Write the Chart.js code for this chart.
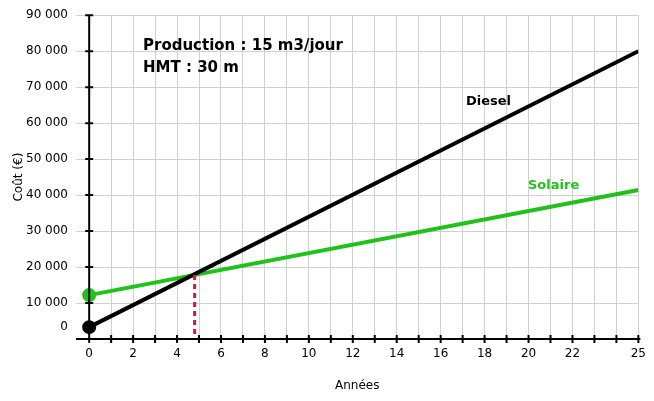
<!DOCTYPE html>
<html><head><meta charset="utf-8">
<script src="https://cdn.jsdelivr.net/npm/chart.js"></script>
<style>html,body{margin:0;padding:0;background:#fff}#w{width:654px;height:401px}</style>
</head><body><div id="w"><canvas id="c"></canvas></div>
<script>
const years = [0, 25];
const diesel = [3300, 80000];
const solaire = [12200, 41400];
const breakEven = {x: 4.8, y: 17800};
const yTicks = [3300, 10000, 20000, 30000, 40000, 50000, 60000, 70000, 80000, 90000];
const yLabels = ['0', '10 000', '20 000', '30 000', '40 000', '50 000', '60 000', '70 000', '80 000', '90 000'];
const xLabelTicks = [0, 2, 4, 6, 8, 10, 12, 14, 16, 18, 20, 22, 25];
const GREEN = '#1fc11a';
const FONT = "'DejaVu Sans', sans-serif";

const axesPlugin = {
  id: 'axes',
  afterDatasetsDraw(chart) {
    const {ctx, scales: {x, y}, chartArea} = chart;
    ctx.save();
    ctx.strokeStyle = '#d6154c'; ctx.lineWidth = 3; ctx.setLineDash([5, 4]);
    ctx.beginPath();
    ctx.moveTo(x.getPixelForValue(breakEven.x), y.getPixelForValue(breakEven.y));
    ctx.lineTo(x.getPixelForValue(breakEven.x), chartArea.bottom);
    ctx.stroke(); ctx.setLineDash([]);
    const x0 = x.getPixelForValue(0), yb = chartArea.bottom;
    ctx.strokeStyle = '#000'; ctx.lineWidth = 2;
    ctx.beginPath();
    ctx.moveTo(chartArea.left, yb); ctx.lineTo(chartArea.right + 2, yb);
    ctx.moveTo(x0, chartArea.top); ctx.lineTo(x0, yb);
    for (let i = 0; i <= 25; i++) { const px = x.getPixelForValue(i); ctx.moveTo(px, yb - 4); ctx.lineTo(px, yb + 4); }
    for (const v of yTicks) { const py = y.getPixelForValue(v); ctx.moveTo(x0 - 4, py); ctx.lineTo(x0 + 4, py); }
    ctx.stroke();
    ctx.fillStyle = '#000'; ctx.font = 'bold 15px ' + FONT; ctx.textBaseline = 'middle';
    ctx.fillText('Production : 15 m3/jour', 143, 46);
    ctx.fillText('HMT : 30 m', 143, 68);
    ctx.font = 'bold 13px ' + FONT;
    ctx.fillText('Diesel', 466, 102);
    ctx.fillStyle = GREEN;
    ctx.fillText('Solaire', 528, 186);
    ctx.restore();
  }
};

new Chart(document.getElementById('c'), {
  type: 'line',
  data: {
    datasets: [
      {label: 'Diesel', data: years.map((v, i) => ({x: v, y: diesel[i]})), borderColor: '#000', backgroundColor: '#000', borderWidth: 4, pointRadius: [5, 0], pointHoverRadius: 0},
      {label: 'Solaire', data: years.map((v, i) => ({x: v, y: solaire[i]})), borderColor: GREEN, backgroundColor: GREEN, borderWidth: 4, pointRadius: [5, 0], pointHoverRadius: 0}
    ]
  },
  options: {
    responsive: true, maintainAspectRatio: false, animation: false,
    layout: {padding: {top: 15, right: 12, left: 8, bottom: 4}},
    plugins: {legend: {display: false}, tooltip: {enabled: false}},
    scales: {
      x: {
        type: 'linear', min: -0.6, max: 25,
        afterBuildTicks: s => { const t = []; for (let i = 0; i <= 25; i++) t.push({value: i}); s.ticks = t; },
        afterFit: s => { s.height = 58; },
        ticks: {autoSkip: false, maxRotation: 0, padding: 8, color: '#000', font: {family: FONT, size: 12},
          callback: v => xLabelTicks.includes(v) ? String(v) : ''},
        grid: {color: '#d0d0d0', lineWidth: 1, drawTicks: false},
        border: {display: false},
        title: {display: true, text: 'Années', color: '#000', font: {family: FONT, size: 12}, padding: {top: 20, bottom: 4}}
      },
      y: {
        min: 0, max: 90000,
        afterBuildTicks: s => { s.ticks = yTicks.map(v => ({value: v})); },
        afterFit: s => { s.width = 68; },
        ticks: {autoSkip: false, padding: 8, color: '#000', font: {family: FONT, size: 12},
          callback: v => yLabels[yTicks.indexOf(v)]},
        grid: {color: ctx => ctx.tick && ctx.tick.value === 3300 ? 'rgba(0,0,0,0)' : '#d0d0d0', lineWidth: 1, drawTicks: false},
        border: {display: false},
        title: {display: true, text: 'Coût (€)', color: '#000', font: {family: FONT, size: 12}, padding: {bottom: 6}}
      }
    }
  },
  plugins: [axesPlugin]
});
</script></body></html>
